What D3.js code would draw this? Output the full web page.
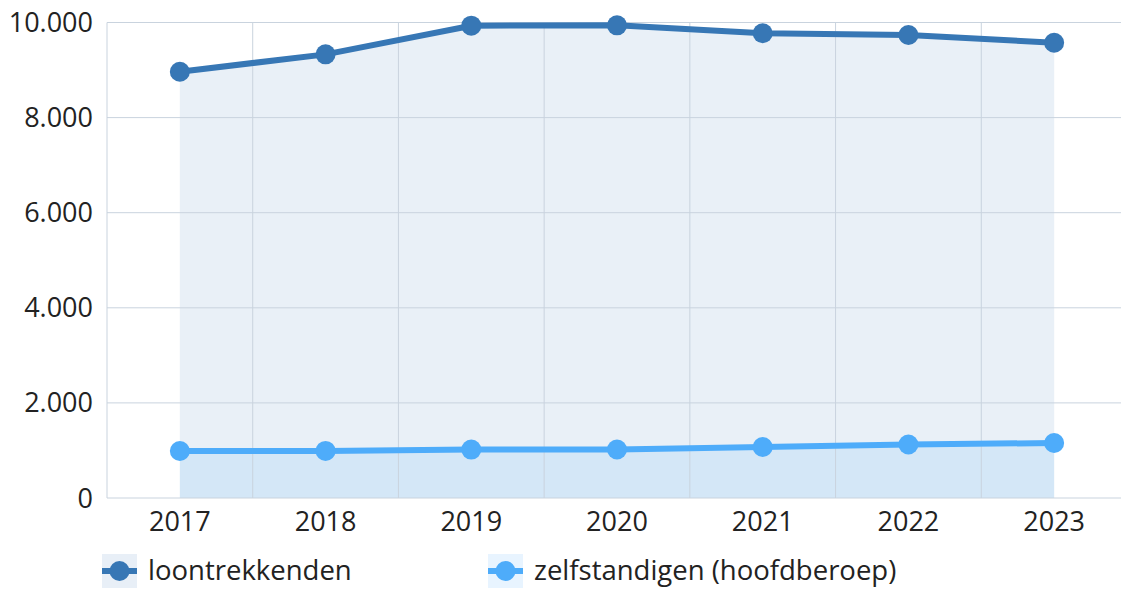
<!DOCTYPE html>
<html>
<head>
<meta charset="utf-8">
<script src="https://cdn.jsdelivr.net/npm/d3@7"></script>
<style>
  body { margin: 0; background: #fff; }
  text { font-family: "Open Sans", "Noto Sans", sans-serif; fill: #222; }
</style>
</head>
<body>
<script>
// gegevens
const jaren = ["2017", "2018", "2019", "2020", "2021", "2022", "2023"];
const loontrekkenden = [8965, 9330, 9933, 9941, 9773, 9737, 9575];
const zelfstandigen = [989, 990, 1018, 1019, 1073, 1124, 1157];
const yTicks = [0, 2000, 4000, 6000, 8000, 10000];
const reeksen = [
  { naam: "loontrekkenden", waarden: loontrekkenden, kleur: "#3777b5", vlak: "rgba(55,119,181,0.11)", legendVlak: "#e8eff7" },
  { naam: "zelfstandigen (hoofdberoep)", waarden: zelfstandigen, kleur: "#4eacfa", vlak: "rgba(78,172,250,0.13)", legendVlak: "#e8f4ff" }
];

const breedte = 1121, hoogte = 589;
const links = 107, rechts = 1127, boven = 22.5, onder = 498;

const svg = d3.select("body").append("svg")
  .attr("width", breedte)
  .attr("height", hoogte);

const x = d3.scaleBand().domain(jaren).range([links, rechts]);
const y = d3.scaleLinear().domain([0, 10000]).range([onder, boven]);
const cx = d => x(d) + x.bandwidth() / 2;

const fmt = v => d3.format(",")(v).replace(/,/g, ".");

// vlakken
reeksen.forEach(r => {
  const area = d3.area()
    .x((d, i) => cx(jaren[i]))
    .y0(y(0))
    .y1(d => y(d));
  svg.append("path")
    .attr("d", area(r.waarden))
    .attr("fill", r.vlak);
});

// rasterlijnen
svg.append("g").selectAll("line")
  .data(yTicks)
  .enter().append("line")
  .attr("x1", links).attr("x2", breedte)
  .attr("y1", d => y(d)).attr("y2", d => y(d))
  .attr("stroke", "#c9d3de").attr("stroke-width", 1);

svg.append("g").selectAll("line")
  .data(jaren)
  .enter().append("line")
  .attr("x1", d => x(d)).attr("x2", d => x(d))
  .attr("y1", boven).attr("y2", onder)
  .attr("stroke", "#c9d3de").attr("stroke-width", 1);

// y-as labels
svg.append("g").selectAll("text")
  .data(yTicks)
  .enter().append("text")
  .attr("x", 93)
  .attr("y", d => y(d) + 9.5)
  .attr("text-anchor", "end")
  .attr("font-size", 27)
  .text(fmt);

// x-as labels
svg.append("g").selectAll("text")
  .data(jaren)
  .enter().append("text")
  .attr("x", d => cx(d))
  .attr("y", 531)
  .attr("text-anchor", "middle")
  .attr("font-size", 27)
  .text(d => d);

// lijnen en punten
reeksen.forEach(r => {
  const lijn = d3.line()
    .x((d, i) => cx(jaren[i]))
    .y(d => y(d));
  svg.append("path")
    .attr("d", lijn(r.waarden))
    .attr("fill", "none")
    .attr("stroke", r.kleur)
    .attr("stroke-width", 6)
    .attr("stroke-linejoin", "round");
  svg.append("g").selectAll("circle")
    .data(r.waarden)
    .enter().append("circle")
    .attr("cx", (d, i) => cx(jaren[i]))
    .attr("cy", d => y(d))
    .attr("r", 10)
    .attr("fill", r.kleur);
});

// legende
const legendX = [102, 488];
reeksen.forEach((r, i) => {
  const g = svg.append("g").attr("transform", `translate(${legendX[i]},554)`);
  g.append("rect").attr("width", 35).attr("height", 34).attr("fill", r.legendVlak);
  g.append("line").attr("x1", 0).attr("x2", 35).attr("y1", 17).attr("y2", 17)
    .attr("stroke", r.kleur).attr("stroke-width", 6);
  g.append("circle").attr("cx", 17.5).attr("cy", 17).attr("r", 10).attr("fill", r.kleur);
  g.append("text").attr("x", 46).attr("y", 26).attr("font-size", 27.5).text(r.naam);
});
</script>
</body>
</html>
